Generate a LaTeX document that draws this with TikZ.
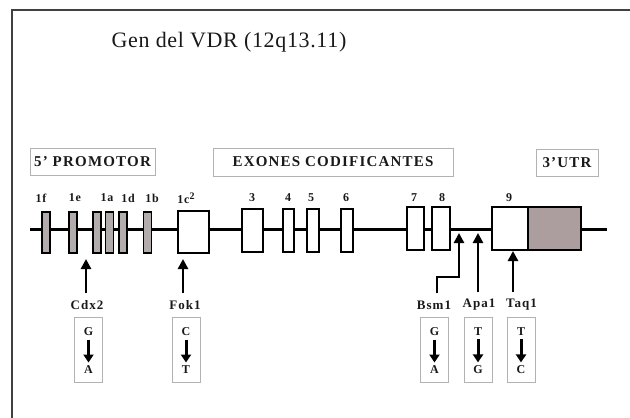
\documentclass[tikz,border=0pt]{standalone}
\usepackage{fontspec}
\setmainfont{Liberation Serif}
\usetikzlibrary{arrows.meta}
\definecolor{exgray}{RGB}{178,172,172}
\definecolor{utrgray}{RGB}{172,158,158}
\tikzset{
  gene/.style={line width=3pt},
  exon/.style={draw,line width=1.3pt,inner sep=0pt,fill=white},
  pexon/.style={exon,fill=exgray,minimum width=8pt,minimum height=41pt},
  hbox/.style={draw=gray!60,line width=1pt,inner sep=0pt,text=black!90,
    font=\fontsize{15}{15}\selectfont\bfseries\addfontfeatures{LetterSpace=8}},
  elab/.style={text=black!90,inner sep=1pt,font=\fontsize{12}{12}\selectfont\bfseries\addfontfeatures{LetterSpace=6}},
  slab/.style={text=black!90,inner sep=1pt,font=\fontsize{13}{13}\selectfont\bfseries\addfontfeatures{LetterSpace=8}},
  alle/.style={text=black!90,font=\fontsize{12}{12}\selectfont\bfseries},
  abox/.style={draw=gray!60,line width=1pt,minimum width=28pt,minimum height=65pt},
  snp/.style={line width=2.8pt,-{Triangle[width=10pt,length=10pt]}},
  mut/.style={line width=3pt,-{Triangle[width=10pt,length=8pt]}}
}
\begin{document}
\begin{tikzpicture}[x=1pt,y=-1pt]
  \useasboundingbox (0,0) rectangle (630,418);
  \draw[black!75,line width=1.6pt] (12,418) -- (12,10) -- (630,10);
  \node[text=black!90,font=\fontsize{22}{22}\selectfont\addfontfeatures{LetterSpace=3}] (title) at (229,42) {Gen del VDR (12q13.11)};

  \node[hbox,minimum width=125pt,minimum height=27pt] (hprom) at (92.5,161.5) {5' PROMOTOR};
  \node[hbox,minimum width=240pt,minimum height=28pt] (hexon) at (333,162) {EXONES CODIFICANTES};
  \node[hbox,minimum width=62pt,minimum height=27pt] (hutr) at (567,162.5) {3'UTR};

  \coordinate (g0) at (30,229);
  \coordinate (g1) at (607,229);
  \draw[gene] (g0) -- (g1);
  \foreach \n/\x in {f/46,e/73,a/97,d/109.5,x/123,b/147.5}
    \node[pexon] (e1\n) at (\x,232.5) {};
  \foreach \n/\x/\y/\w/\h in {1c/193.5/232/31/42, 3/252.5/230.5/21/43, 4/288.5/230.5/11/43,
      5/313/230.5/12/43, 6/347/230.5/12/43, 7/415.5/228.5/17/43, 8/441/228.5/18/43, 9/510/228.5/36/43}
    \node[exon,minimum width=\w pt,minimum height=\h pt] (e\n) at (\x,\y) {};
  \node[exon,fill=utrgray,minimum width=53pt,minimum height=43pt] (utr) at (554.5,228.5) {};

  \foreach \t/\x in {1f/41,1e/75,1a/107,1d/128,1b/152,3/252,4/288,5/311,6/346,7/414,8/442,9/509}
    \node[elab] (l\t) at (\x,198) {\t};
  \node[elab] (l1c) at (186,198) {1c\raisebox{4pt}{\fontsize{10}{10}\selectfont 2}};

  \foreach \n/\lx/\bx/\t/\u/\d in {cdx/87/88.5/Cdx2/G/A, fok/185/186/Fok1/C/T, bsm/434/434.5/Bsm1/G/A,
      apa/479/478/Apa1/T/G, taq/521.5/521/Taq1/T/C} {
    \node[slab] (s\n) at (\lx,305) {\t};
    \node[abox] (a\n) at (\bx,350) {};
    \node[alle] (u\n) at (\bx,332) {\u};
    \node[alle] (d\n) at (\bx,370) {\d};
    \draw[mut] (u\n) -- (d\n);
  }

  \coordinate (tcdx) at (86,259);
  \coordinate (tfok) at (183,259);
  \coordinate (kbsm) at (437,277);
  \coordinate (tbsm) at (459,233);
  \coordinate (tapa) at (478,233);
  \coordinate (ttaq) at (513,251);
  \foreach \n in {cdx,fok,apa,taq}
    \draw[snp,shorten <=6pt] (s\n.north -| t\n) -- (t\n);
  \draw[snp,shorten <=6pt] (sbsm.north -| kbsm) -- (kbsm) -| (tbsm);
\end{tikzpicture}
\end{document}
